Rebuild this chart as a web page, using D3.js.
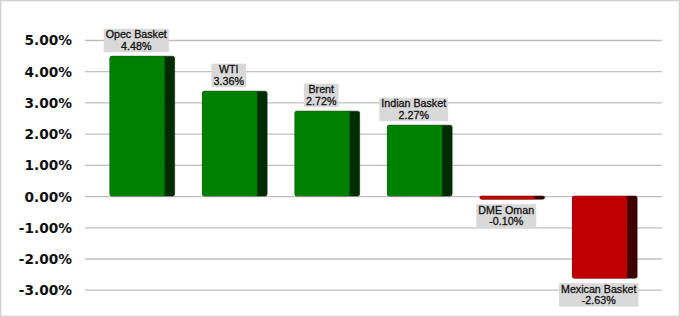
<!DOCTYPE html>
<html><head><meta charset="utf-8">
<script src="https://cdn.jsdelivr.net/npm/d3@7"></script>
<style>html,body{margin:0;padding:0;background:#fff;}svg{display:block;}</style>
</head><body>
<svg id="chart" width="680" height="317"></svg>
<script>
const categories = ["Opec Basket", "WTI", "Brent", "Indian Basket", "DME Oman", "Mexican Basket"];
const values = [4.48, 3.36, 2.72, 2.27, -0.10, -2.63];
const tickValues = [5, 4, 3, 2, 1, 0, -1, -2, -3];

const fmt = v => d3.format(".2f")(v).replace("\u2212", "-") + "%";

const svg = d3.select("#chart");
const W = 680, H = 317;

svg.append("rect").attr("x", 0.5).attr("y", 0.5).attr("width", W - 1).attr("height", H - 1)
  .attr("fill", "#fff").attr("stroke", "#d0d0d0").attr("stroke-width", 1.5);

const y = d3.scaleLinear().domain([-3, 5]).range([289.7, 40]);
const x = d3.scaleBand().domain(categories).range([96, 651]).paddingInner(0.3).paddingOuter(0.15);

const gridX0 = 85, gridX1 = 662;
const yAxis = d3.axisLeft(y).tickValues(tickValues).tickSize(-(gridX1 - gridX0)).tickPadding(13)
  .tickFormat(fmt);
const gAxis = svg.append("g").attr("transform", `translate(${gridX0},0)`).call(yAxis);
gAxis.select(".domain").remove();
gAxis.selectAll(".tick line").attr("stroke", "#bfbfbf").attr("stroke-width", 1.3);
gAxis.selectAll(".tick text").attr("font-family", "DejaVu Sans").attr("font-weight", "bold")
  .attr("font-size", 13.7).attr("fill", "#111").attr("dy", "0.36em");

const sideW = 10;
const data = categories.map((c, i) => ({ c, v: values[i] }));
const bars = svg.append("g");
data.forEach(d => {
  const x0 = x(d.c), bw = x.bandwidth();
  const yTop = y(Math.max(0, d.v)), yBot = y(Math.min(0, d.v));
  const pos = d.v >= 0;
  const front = pos ? "#008000" : "#c00000";
  const side = pos ? "#002c00" : "#3c0000";
  const g = bars.append("g");
  g.append("rect").attr("x", x0).attr("y", yTop).attr("width", bw).attr("height", Math.max(yBot - yTop, 1))
    .attr("rx", 2).attr("fill", side).attr("stroke", side).attr("stroke-width", 0.6);
  g.append("rect").attr("x", x0).attr("y", yTop).attr("width", bw - sideW).attr("height", Math.max(yBot - yTop, 1))
    .attr("rx", 1.5).attr("fill", front);
  // label
  const cx = x0 + (bw - sideW) / 2 - 1;
  const lines = [d.c, fmt(d.v)];
  const lg = svg.append("g");
  const t = lg.append("text").attr("font-family", "Liberation Sans, Arial, sans-serif")
    .attr("font-size", 10.7).attr("fill", "#111").attr("stroke", "#111").attr("stroke-width", 0.3)
    .attr("text-anchor", "middle");
  lines.forEach((l, k) => t.append("tspan").attr("x", cx).attr("dy", k === 0 ? 0 : 11.7).text(l));
  const tb = t.node().getBBox();
  const boxH = 23.5, boxW = tb.width + 4;
  let boxTop = pos ? yTop - 4 - boxH : yBot + 5;
  t.attr("y", boxTop + 9.5);
  lg.insert("rect", "text").attr("x", cx - boxW / 2).attr("y", boxTop).attr("width", boxW).attr("height", boxH)
    .attr("fill", "#d9d9d9");
});
</script>
</body></html>
